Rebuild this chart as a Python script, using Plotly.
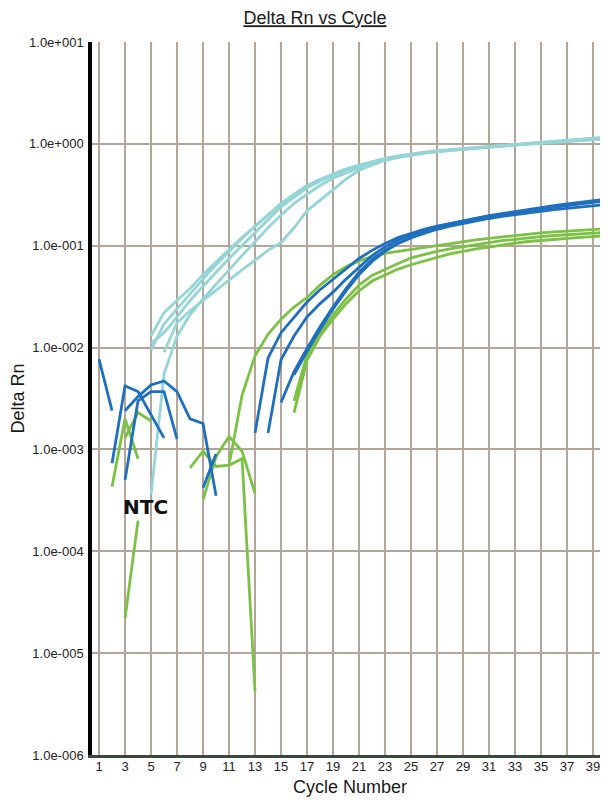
import plotly.graph_objects as go

# ---------------- data (Delta Rn per cycle; gaps = non-positive values) ----------------
tick_cycles = [1, 3, 5, 7, 9, 11, 13, 15, 17, 19, 21, 23, 25, 27, 29, 31, 33, 35, 37, 39]
y_tick_vals = [1e-6, 1e-5, 1e-4, 1e-3, 1e-2, 1e-1, 1e0, 1e1]
y_tick_text = ["1.0e-006", "1.0e-005", "1.0e-004", "1.0e-003", "1.0e-002", "1.0e-001", "1.0e+000", "1.0e+001"]

# high-concentration wells (light cyan)
cyan1_start = 5
cyan1 = [0.013, 0.022, 0.029, 0.038, 0.052, 0.07, 0.092, 0.12, 0.155, 0.2, 0.26, 0.32, 0.39, 0.45, 0.51, 0.57,
         0.62, 0.67, 0.72, 0.76, 0.8, 0.83, 0.86, 0.88, 0.91, 0.93, 0.95, 0.97, 0.99, 1.01, 1.04, 1.06, 1.09,
         1.11, 1.14, 1.16]
cyan2_start = 5
cyan2 = [0.0095, 0.017, 0.024, 0.034, 0.047, 0.065, 0.088, 0.118, 0.155, 0.2, 0.255, 0.315, 0.38, 0.44, 0.5,
         0.56, 0.61, 0.66, 0.71, 0.75, 0.79, 0.82, 0.85, 0.875, 0.9, 0.92, 0.94, 0.96, 0.98, 1.0, 1.03, 1.05,
         1.08, 1.1, 1.13, 1.15]
cyan3_start = 5
cyan3 = [0.011, 0.014, 0.02, 0.029, 0.04, 0.055, 0.075, 0.1, 0.135, 0.18, 0.24, 0.3, 0.37, 0.43, 0.49, 0.55,
         0.6, 0.65, 0.7, 0.745, 0.785, 0.815, 0.845, 0.87, 0.895, 0.915, 0.935, 0.955, 0.975, 0.995, 1.02,
         1.04, 1.07, 1.09, 1.12, 1.14]
cyan4_start = 5
cyan4 = [0.00036, 0.0055, 0.013, 0.021, 0.03, 0.042, 0.058, 0.08, 0.11, 0.15, 0.2, 0.26, 0.32, 0.39, 0.46,
         0.52, 0.58, 0.635, 0.69, 0.735, 0.775, 0.81, 0.84, 0.865, 0.89, 0.91, 0.93, 0.95, 0.97, 0.99, 1.01,
         1.03, 1.06, 1.08, 1.1, 1.12]
cyan5_start = 6
cyan5 = [0.009, 0.0175, 0.023, 0.029, 0.037, 0.046, 0.058, 0.072, 0.09, 0.107, 0.15, 0.22, 0.28, 0.35, 0.45,
         0.55, 0.62, 0.69, 0.74, 0.78, 0.81, 0.84, 0.865, 0.89, 0.91, 0.93, 0.95, 0.975, 1.0, 1.025, 1.05,
         1.08, 1.1, 1.12, 1.14]

# medium-concentration wells (blue)
blue1_start = 13
blue1 = [0.00145, 0.0079, 0.014, 0.02, 0.028, 0.037, 0.047, 0.06, 0.075, 0.09, 0.105, 0.12, 0.133, 0.145,
         0.156, 0.166, 0.176, 0.186, 0.195, 0.204, 0.213, 0.222, 0.231, 0.24, 0.249, 0.258, 0.267, 0.275]
blue2_start = 14
blue2 = [0.00145, 0.0076, 0.013, 0.02, 0.027, 0.035, 0.047, 0.062, 0.08, 0.097, 0.113, 0.128, 0.141, 0.153,
         0.164, 0.175, 0.186, 0.197, 0.207, 0.217, 0.227, 0.237, 0.247, 0.257, 0.267, 0.277, 0.287]
blue3_start = 15
blue3 = [0.0029, 0.0058, 0.0098, 0.016, 0.025, 0.038, 0.055, 0.073, 0.09, 0.106, 0.12, 0.133, 0.145, 0.156,
         0.166, 0.176, 0.185, 0.194, 0.202, 0.21, 0.218, 0.226, 0.233, 0.24, 0.247, 0.254]
blue4_start = 16
blue4 = [0.0054, 0.0092, 0.015, 0.024, 0.036, 0.052, 0.07, 0.088, 0.105, 0.12, 0.134, 0.147, 0.159, 0.17,
         0.18, 0.19, 0.2, 0.21, 0.22, 0.23, 0.24, 0.25, 0.26, 0.27, 0.28]

# low-concentration wells (green)
green1_start = 8
green1 = [0.00066, 0.00096, 0.00068, 0.0007, 0.0034, 0.0083, 0.0135, 0.019, 0.025, 0.031, 0.041, 0.052,
          0.062, 0.071, 0.078, 0.084, 0.088, 0.092, 0.096, 0.1, 0.105, 0.109, 0.114, 0.118, 0.122, 0.127,
          0.131, 0.134, 0.137, 0.14, 0.143, 0.145, 0.147]
green2_start = 16
green2 = [0.0023, 0.0075, 0.013, 0.019, 0.027, 0.036, 0.045, 0.052, 0.059, 0.065, 0.071, 0.077, 0.083,
          0.088, 0.093, 0.097, 0.102, 0.106, 0.11, 0.113, 0.116, 0.119, 0.121, 0.123, 0.125]
green3_start = 16
green3 = [0.003, 0.0085, 0.014, 0.021, 0.03, 0.041, 0.051, 0.059, 0.067, 0.076, 0.082, 0.088, 0.093, 0.098,
          0.103, 0.107, 0.112, 0.116, 0.12, 0.123, 0.126, 0.129, 0.131, 0.133, 0.135]

# background noise fragments (early cycles)
noise_blue = [
    (1, [0.0077, 0.0024]),
    (2, [0.00073, 0.0042, 0.0037, 0.0022, 0.0013]),
    (3, [0.0005, 0.003, 0.0037, 0.0037, 0.00126]),
    (3, [0.0024, 0.0033, 0.0043, 0.0047, 0.0037, 0.002, 0.0018, 0.00035]),
    (9, [0.00042, 0.0009]),
]
noise_green = [
    (2, [0.00043, 0.002, 0.00081]),
    (3, [0.0013, 0.0023, 0.0019]),
    (3, [0.000022, 0.0002]),          # NTC well
    (11, [0.0007, 0.00081, 0.0000042]),
    (9, [0.00032, 0.00085, 0.00134, 0.00096, 0.00037]),
]

CYAN = "#95d5d6"
BLUE = "#1f6fbf"
GREEN = "#7bc244"
GRID = "#b3a699"

series = [
    (cyan1_start, cyan1, CYAN), (cyan2_start, cyan2, CYAN), (cyan3_start, cyan3, CYAN),
    (cyan4_start, cyan4, CYAN), (cyan5_start, cyan5, CYAN),
]
series += [(s, v, GREEN) for s, v in noise_green]
series += [(green1_start, green1, GREEN), (green2_start, green2, GREEN), (green3_start, green3, GREEN)]
series += [(s, v, BLUE) for s, v in noise_blue]
series += [(blue1_start, blue1, BLUE), (blue2_start, blue2, BLUE), (blue3_start, blue3, BLUE),
           (blue4_start, blue4, BLUE)]

fig = go.Figure()
for start, vals, col in series:
    fig.add_trace(go.Scatter(
        x=list(range(start, start + len(vals))), y=vals, mode="lines",
        line=dict(color=col, width=2.8), showlegend=False, hoverinfo="skip"))

# page body has an 8px default margin, so the figure is sized/offset to compensate
W, H = 600, 795
fig.update_layout(
    width=W, height=H,
    margin=dict(l=84, r=0, t=34, b=48, autoexpand=False),
    paper_bgcolor="white", plot_bgcolor="white",
    font=dict(family="Liberation Sans, Arial, sans-serif", color="#222222"),
    title=dict(text="<u>Delta Rn vs Cycle</u>", x=307 / W, xanchor="center", xref="container",
               y=1 - 10 / H, yanchor="middle", yref="container",
               font=dict(size=18, color="#1a1a1a", family="Liberation Sans, Arial, sans-serif")),
    showlegend=False,
)

fig.update_xaxes(
    range=[0.46, 40.15], tickmode="array", tickvals=tick_cycles,
    ticktext=[str(c) for c in tick_cycles], tickfont=dict(size=13, color="#222222"),
    showgrid=True, gridcolor=GRID, gridwidth=1.6, zeroline=False,
    showline=True, linecolor="#3a4a3a", linewidth=3, ticks="", ticklabelstandoff=-3,
    title=dict(text="Cycle Number", font=dict(size=18, color="#1a1a1a"), standoff=8),
    automargin=False,
)
fig.update_yaxes(
    type="log", range=[-6, 1], tickmode="array", tickvals=y_tick_vals, ticktext=y_tick_text,
    tickfont=dict(size=13, color="#222222"),
    showgrid=True, gridcolor=GRID, gridwidth=1.6, zeroline=False,
    showline=True, linecolor="#000000", linewidth=3.5, ticks="", ticklabelstandoff=2,
    title=dict(text="Delta Rn", font=dict(size=18, color="#1a1a1a"), standoff=2),
    automargin=False,
)

fig.add_annotation(text="<b>NTC</b>", x=(145 - 92) / 516, y=(755 - 507) / 713, xref="paper", yref="paper",
                   xanchor="center", yanchor="middle", showarrow=False,
                   font=dict(size=20, color="#111111", family="DejaVu Sans"))

fig.write_html("out.html")
